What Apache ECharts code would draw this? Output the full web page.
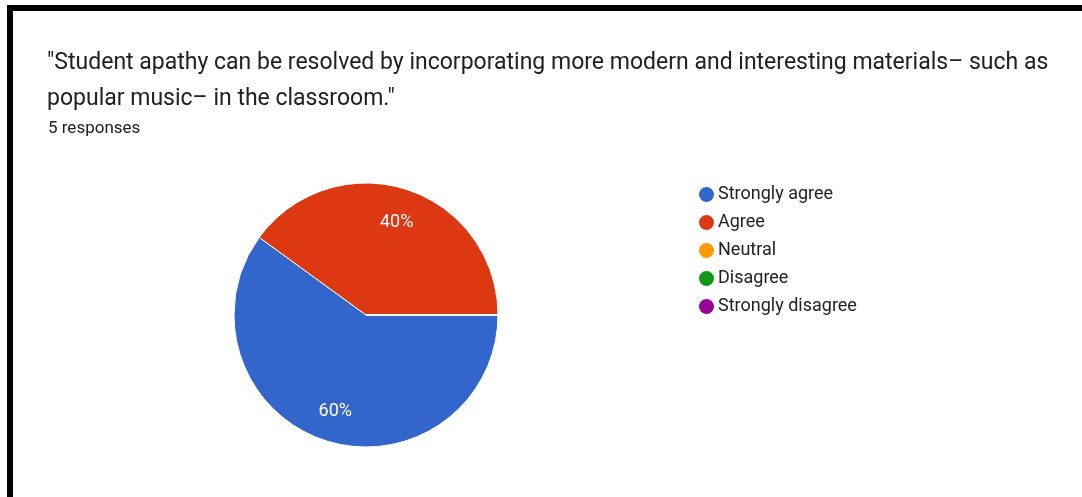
<!DOCTYPE html>
<html>
<head>
<meta charset="utf-8">
<script src="https://cdn.jsdelivr.net/npm/echarts@6/dist/echarts.min.js"></script>
<style>
  html, body { margin: 0; padding: 0; background: #fff; }
  #chart { width: 1082px; height: 497px; }
</style>
</head>
<body>
<div id="chart"></div>
<script>
// Survey question and responses
const questionLines = [
  '"Student apathy can be resolved by incorporating more modern and interesting materials\u2013 such as',
  'popular music\u2013 in the classroom."'
];
const responseNote = '5 responses';
const categories = ['Strongly agree', 'Agree', 'Neutral', 'Disagree', 'Strongly disagree'];
const counts = [3, 2, 0, 0, 0];
const palette = ['#3366cc', '#dc3912', '#ff9900', '#109618', '#990099'];

const total = counts.reduce((a, b) => a + b, 0);
const pieData = categories.map((name, i) => ({
  name,
  value: counts[i],
  itemStyle: { color: palette[i] }
}));

const CX = 366, CY = 315, R = 132;
const FONT = 'Roboto, "Noto Sans", sans-serif';

const chart = echarts.init(document.getElementById('chart'), null, { renderer: 'canvas' });
chart.setOption({
  animation: false,
  backgroundColor: '#ffffff',
  textStyle: { fontFamily: FONT },
  graphic: [
    // frame lines along the top and left edges
    { type: 'rect', shape: { x: 7, y: 5, width: 1075, height: 6 }, style: { fill: '#000' } },
    { type: 'rect', shape: { x: 7, y: 5, width: 6, height: 492 }, style: { fill: '#000' } },
    {
      type: 'text', left: 47, top: 45,
      style: {
        text: questionLines.join('\n'),
        font: '23px ' + FONT,
        fill: '#202124', lineHeight: 36
      }
    },
    {
      type: 'text', left: 48, top: 120,
      style: { text: responseNote, font: '17px ' + FONT, fill: '#202124' }
    }
  ],
  legend: {
    orient: 'vertical',
    left: 692, top: 180,
    icon: 'circle',
    itemWidth: 17, itemHeight: 17, itemGap: 9,
    selectedMode: false,
    data: categories,
    textStyle: { fontSize: 18, color: '#222222', padding: [0, 0, 0, -2] }
  },
  series: [
    {
      type: 'pie',
      center: [CX, CY],
      radius: [0, R],
      startAngle: 0,
      clockwise: true,
      silent: true,
      itemStyle: { borderColor: '#ffffff', borderWidth: 1 },
      label: { show: false },
      labelLine: { show: false },
      data: pieData
    },
    {
      // transparent ring used only to place the percentage labels
      type: 'pie',
      center: [CX, CY + 2],
      radius: [R * 0.48, R * 0.98],
      startAngle: 0,
      clockwise: true,
      silent: true,
      itemStyle: { color: 'rgba(0,0,0,0)' },
      label: {
        show: true,
        position: 'inside',
        color: '#ffffff',
        fontSize: 18,
        formatter: p => p.value > 0 ? Math.round(p.value / total * 100) + '%' : ''
      },
      labelLine: { show: false },
      data: categories.map((name, i) => ({ name, value: counts[i] }))
    }
  ]
});
</script>
</body>
</html>
